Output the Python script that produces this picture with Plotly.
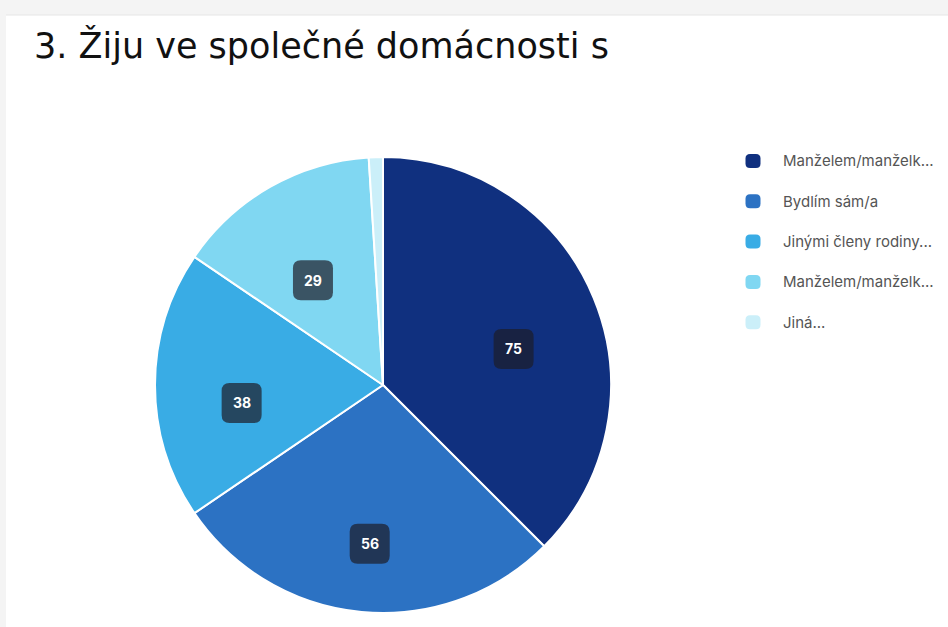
import math
import plotly.graph_objects as go

title = "3. Žiju ve společné domácnosti s"
categories = ["Manželem/manželk...", "Bydlím sám/a", "Jinými členy rodiny...",
              "Manželem/manželk...", "Jiná..."]
values = [75, 56, 38, 29, 2]
colors = ["#10307f", "#2c72c3", "#39ace5", "#80d7f2", "#cbeff9"]

W, H = 948, 627
CX, CY, R = 383, 385, 228
LABEL_DY = 18


def px(x):
    return x / W


def py(y):
    return 1 - y / H


def rounded_rect(x0, y0, x1, y1, r):
    pts = [
        f"M {px(x0 + r)} {py(y0)}",
        f"L {px(x1 - r)} {py(y0)}",
        f"Q {px(x1)} {py(y0)} {px(x1)} {py(y0 + r)}",
        f"L {px(x1)} {py(y1 - r)}",
        f"Q {px(x1)} {py(y1)} {px(x1 - r)} {py(y1)}",
        f"L {px(x0 + r)} {py(y1)}",
        f"Q {px(x0)} {py(y1)} {px(x0)} {py(y1 - r)}",
        f"L {px(x0)} {py(y0 + r)}",
        f"Q {px(x0)} {py(y0)} {px(x0 + r)} {py(y0)}",
        "Z",
    ]
    return " ".join(pts)


fig = go.Figure(
    go.Pie(
        values=values,
        labels=[str(i) for i in range(len(values))],
        text=categories,
        hovertemplate="%{text}: %{value}<extra></extra>",
        textinfo="none",
        sort=False,
        direction="clockwise",
        rotation=0,
        marker=dict(colors=colors, line=dict(color="white", width=2)),
        domain=dict(x=[px(CX - R), px(CX + R)], y=[py(CY + R), py(CY - R)]),
        showlegend=False,
    )
)

shapes = [
    dict(type="rect", xref="paper", yref="paper", x0=px(6), x1=1, y0=0, y1=py(15),
         fillcolor="white", line=dict(width=0), layer="below"),
    dict(type="line", xref="paper", yref="paper", x0=px(6), x1=1, y0=py(15), y1=py(15),
         line=dict(color="#e6e6e6", width=1), layer="below"),
]
annotations = [
    dict(text=title, x=px(32), y=py(46), xref="paper", yref="paper",
         xanchor="left", yanchor="middle", showarrow=False,
         font=dict(family="DejaVu Sans", size=35, color="#111111")),
]

# value labels
total = sum(values)
cum = 0
for v in values:
    theta = 2 * math.pi * (cum + v / 2) / total
    cum += v
    if v / total < 0.05:
        continue
    lx = CX + 0.62 * R * math.sin(theta)
    ly = CY - 0.62 * R * math.cos(theta) + LABEL_DY
    shapes.append(dict(type="path", xref="paper", yref="paper",
                       path=rounded_rect(lx - 20, ly - 20, lx + 20, ly + 20, 8),
                       fillcolor="rgba(28,28,40,0.7)", line=dict(width=0)))
    annotations.append(dict(text=f"<b>{v}</b>", x=px(lx), y=py(ly), xref="paper", yref="paper",
                            xanchor="center", yanchor="middle", showarrow=False,
                            font=dict(family="Inter", size=14, color="white")))

# legend
LX, LY0, LDY = 753, 161, 40.3
for i, (c, lab) in enumerate(zip(colors, categories)):
    y = LY0 + i * LDY
    shapes.append(dict(type="path", xref="paper", yref="paper",
                       path=rounded_rect(LX - 7.5, y - 7, LX + 7.5, y + 7, 4.5),
                       fillcolor=c, line=dict(width=0)))
    annotations.append(dict(text=lab, x=px(781), y=py(y), xref="paper", yref="paper",
                            xanchor="left", yanchor="middle", showarrow=False,
                            font=dict(family="Inter", size=15, color="#555555")))

fig.update_layout(
    width=W, height=H,
    margin=dict(l=0, r=0, t=0, b=0),
    paper_bgcolor="#f4f4f4",
    plot_bgcolor="white",
    shapes=shapes,
    annotations=annotations,
    showlegend=False,
)

fig.write_html("out.html", config={"displayModeBar": False},
               post_script="document.body.style.margin='0';")
